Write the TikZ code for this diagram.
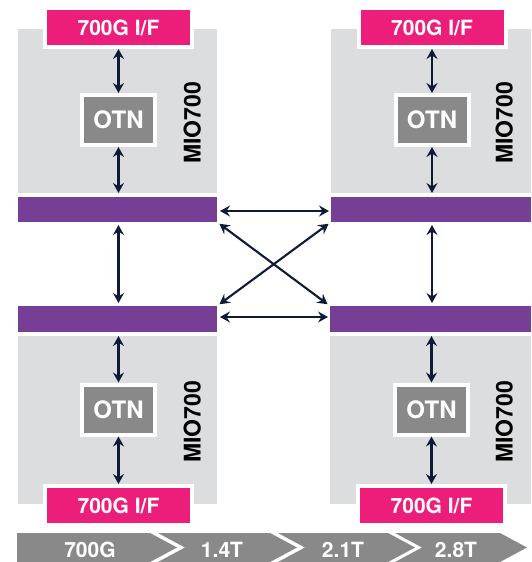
\documentclass[tikz,border=0pt]{standalone}
\usepackage{fontspec}
\setmainfont{TeX Gyre Heros}
\usetikzlibrary{arrows.meta}
\definecolor{pinkc}{RGB}{237,30,121}
\definecolor{purplec}{RGB}{118,62,148}
\definecolor{boxgray}{RGB}{220,221,223}
\definecolor{midgray}{RGB}{137,137,137}
\definecolor{navyc}{RGB}{14,26,56}
\begin{document}
\begin{tikzpicture}[x=1pt,y=-1pt,
  modbox/.style={fill=boxgray, inner sep=0pt, outer sep=0pt, minimum height=164pt},
  ifbox/.style={fill=pinkc, draw=white, line width=4pt, minimum width=147pt, minimum height=39pt,
    inner sep=0pt, text=white, text depth=0pt, font=\bfseries\fontsize{21}{21}\selectfont},
  otnbox/.style={fill=midgray, draw=white, line width=4pt, minimum width=73pt, minimum height=50pt,
    inner sep=0pt, text=white, text depth=0pt, font=\bfseries\fontsize{24}{24}\selectfont},
  busbar/.style={fill=purplec, inner sep=0pt, outer sep=0pt, minimum height=25pt},
  miolabel/.style={rotate=90, inner sep=0pt, text depth=0pt, text=black, font=\bfseries\fontsize{23}{23}\selectfont},
  conn/.style={draw=navyc, line width=2.1pt, {Stealth[length=10pt,width=11pt,inset=3.5pt]}-{Stealth[length=10pt,width=11pt,inset=3.5pt]}},
  seg/.style={fill=midgray},
  bartext/.style={anchor=base, inner sep=0pt, text=white, font=\bfseries\fontsize{21}{21}\selectfont}
]
\useasboundingbox[fill=white] (0,0) rectangle (532,562);

% ---- top-left module
\node[modbox, minimum width=199pt] (gTL) at (117.5,111) {};
\node[ifbox] (iTL) at (118.5,27.5) {700G I/F};
\node[otnbox] (oTL) at (118.5,120) {OTN};
\node[miolabel] (mTL) at (192,123) {MIO700};
\node[busbar, minimum width=199pt] (bTL) at (117.5,209.5) {};

% ---- top-right module
\node[modbox, minimum width=200pt] (gTR) at (431,111) {};
\node[ifbox] (iTR) at (432,27.5) {700G I/F};
\node[otnbox] (oTR) at (432,120) {OTN};
\node[miolabel] (mTR) at (504,123) {MIO700};
\node[busbar, minimum width=200pt] (bTR) at (431,209.5) {};

% ---- bottom-left module
\node[busbar, minimum width=199pt, minimum height=26pt] (bBL) at (117.5,319) {};
\node[modbox, minimum width=199pt, minimum height=168pt] (gBL) at (117.5,420) {};
\node[otnbox] (oBL) at (118.5,409.5) {OTN};
\node[ifbox] (iBL) at (118.5,505.5) {700G I/F};
\node[miolabel] (mBL) at (192,422) {MIO700};

% ---- bottom-right module
\node[busbar, minimum width=201pt, minimum height=26pt] (bBR) at (430.5,319) {};
\node[modbox, minimum width=201pt, minimum height=168pt] (gBR) at (430.5,420) {};
\node[otnbox] (oBR) at (431.5,409.5) {OTN};
\node[ifbox] (iBR) at (431.5,505.5) {700G I/F};
\node[miolabel] (mBR) at (504,422) {MIO700};

% ---- connectors inside modules
\draw[conn] (iTL) -- (oTL);
\draw[conn] (oTL) -- (oTL |- gTL.south);
\draw[conn] (iTR) -- (oTR);
\draw[conn] (oTR) -- (oTR |- gTR.south);
\draw[conn] (oBL |- gBL.north) -- (oBL);
\draw[conn] (oBL) -- (iBL);
\draw[conn] (oBR |- gBR.north) -- (oBR);
\draw[conn] (oBR) -- (iBR);

% ---- connectors between bus bars
\draw[conn, shorten <=3pt, shorten >=3pt] (oTL |- bTL.south) -- (oTL |- bBL.north);
\draw[conn, shorten <=3pt, shorten >=3pt] (oTR |- bTR.south) -- (oTR |- bBR.north);
\draw[conn, shorten <=3pt, shorten >=2pt] ([yshift=-1.5pt]bTL.east) -- ([yshift=-1.5pt]bTR.west);
\draw[conn, shorten <=3pt, shorten >=2pt] ([yshift=2pt]bBL.east) -- ([yshift=2pt]bBR.west);
\draw[conn, shorten <=3pt, shorten >=3pt] (bTL.south east) -- (bBR.north west);
\draw[conn, shorten <=3pt, shorten >=3pt] (bTR.south west) -- (bBL.north east);

% ---- capacity bar
\fill[seg] (17,533) -- (150,533) -- (177,547.5) -- (150,562) -- (17,562) -- cycle;
\fill[seg] (158,533) -- (270,533) -- (297,547.5) -- (270,562) -- (158,562) -- (185,547.5) -- cycle;
\fill[seg] (278,533) -- (388,533) -- (415,547.5) -- (388,562) -- (278,562) -- (305,547.5) -- cycle;
\fill[seg] (395,533) -- (500,533) -- (527,547.5) -- (500,562) -- (395,562) -- (422,547.5) -- cycle;
\node[bartext] (c1) at (90,557) {700G};
\node[bartext] (c2) at (222,557) {1.4T};
\node[bartext] (c3) at (343,557) {2.1T};
\node[bartext] (c4) at (456,557) {2.8T};
\end{tikzpicture}
\end{document}
